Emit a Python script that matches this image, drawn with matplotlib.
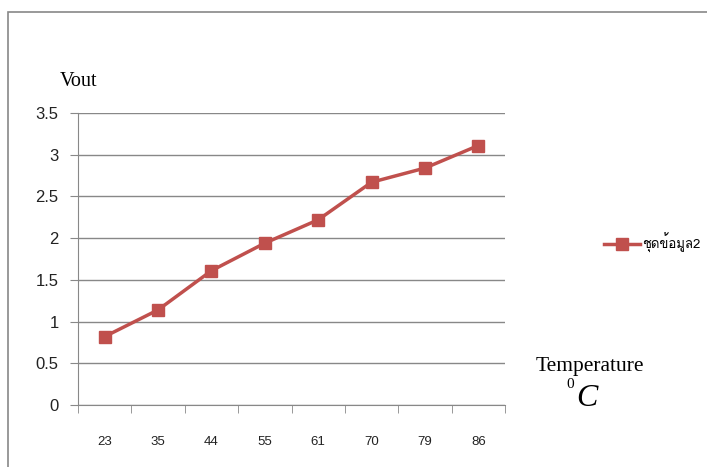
import numpy as np
import matplotlib.pyplot as plt
from matplotlib.patches import Rectangle
from matplotlib.lines import Line2D

temps = ["23", "35", "44", "55", "61", "70", "79", "86"]
vout = [0.82, 1.14, 1.61, 1.94, 2.22, 2.67, 2.84, 3.11]
series_name = "ชุดข้อมูล2"

plt.rcParams['font.family'] = ['Liberation Sans', 'Loma', 'DejaVu Sans']

fig = plt.figure(figsize=(7.07, 4.67), dpi=100)
fig.patches.append(Rectangle((8 / 707, -0.1), 1.2, 1 - 12 / 467 + 0.1,
                             transform=fig.transFigure, fill=False,
                             edgecolor="#888888", linewidth=1.2))

ax = fig.add_axes([78 / 707, 1 - 405 / 467, 427 / 707, 292 / 467])
x = np.arange(len(temps))
ax.plot(x, vout, color="#C0504D", linewidth=2.5, marker="s",
        markersize=9, markerfacecolor="#C0504D", markeredgecolor="#C0504D")

ax.set_xlim(-0.5, len(temps) - 0.5)
ax.set_ylim(0, 3.5)
ax.set_yticks(np.arange(0, 3.51, 0.5))
ax.set_yticklabels(["0", "0.5", "1", "1.5", "2", "2.5", "3", "3.5"])
ax.set_xticks(x)
ax.set_xticklabels(temps)
ax.set_xticks(np.arange(-0.5, len(temps), 1.0), minor=True)
ax.tick_params(axis="x", which="major", length=0, pad=22, labelsize=9.5, colors="#222222")
ax.tick_params(axis="x", which="minor", length=6, color="#888888", direction="out")
ax.tick_params(axis="y", length=6, color="#888888", labelsize=12, pad=8, labelcolor="#222222")
ax.yaxis.grid(True, color="#888888", linewidth=1)
ax.set_axisbelow(True)
for s in ["top", "right"]:
    ax.spines[s].set_visible(False)
for s in ["left", "bottom"]:
    ax.spines[s].set_color("#888888")

fig.text(60 / 707, 1 - 81 / 467, "Vout", fontfamily="Liberation Serif", fontsize=14.5,
         va="center")
fig.text(536 / 707, 1 - 367 / 467, "Temperature", fontfamily="Liberation Serif",
         fontsize=15.5, va="center")
fig.text(566 / 707, 1 - 385 / 467, "0", fontfamily="Liberation Serif", fontsize=11,
         va="center")
fig.text(576 / 707, 1 - 399 / 467, "C", fontfamily="Liberation Serif", fontsize=23,
         style="italic", va="center")

handle = Line2D([], [], color="#C0504D", linewidth=2.5, marker="s", markersize=9)
fig.legend([handle], [series_name], loc="center left",
           bbox_to_anchor=(592 / 707, 1 - 243 / 467), frameon=False,
           handlelength=2.7, handletextpad=0.2,
           prop={'family': ['Loma', 'DejaVu Sans'], 'size': 9.5})

fig.savefig("out.png", dpi=100)
